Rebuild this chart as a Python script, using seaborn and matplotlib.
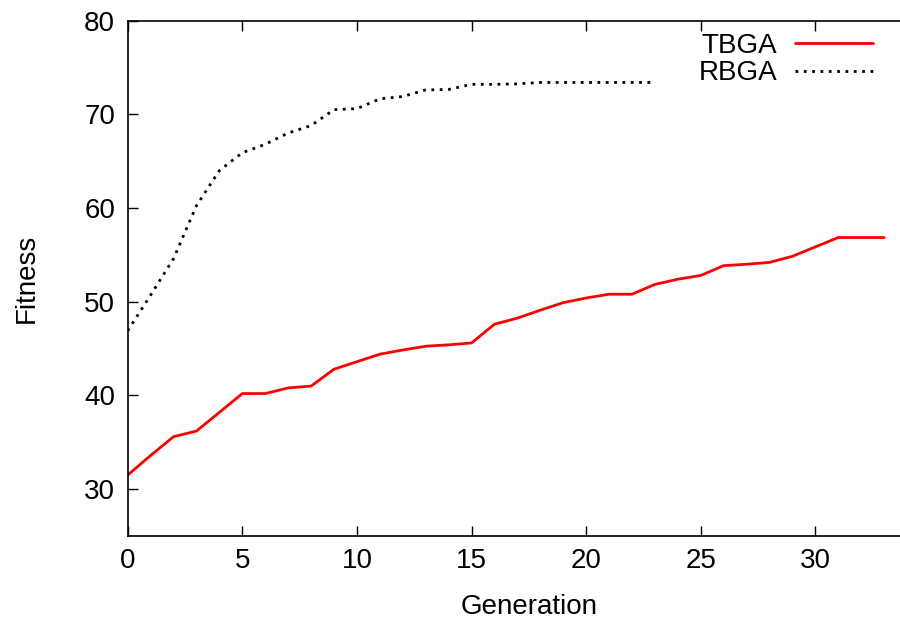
import matplotlib
matplotlib.use("Agg")
import matplotlib.pyplot as plt
import seaborn as sns
import pandas as pd

tbga_gen = list(range(0, 34))
tbga_fit = [31.5, 33.6, 35.6, 36.2, 38.2, 40.2, 40.2, 40.8, 41.0, 42.8,
            43.6, 44.4, 44.85, 45.25, 45.4, 45.6, 47.6, 48.25, 49.1, 49.9,
            50.4, 50.8, 50.8, 51.85, 52.4, 52.8, 53.85, 54.0, 54.2, 54.85,
            55.85, 56.85, 56.85, 56.85]
rbga_gen = list(range(0, 24))
rbga_fit = [46.9, 50.7, 54.6, 60.25, 64.0, 65.9, 66.8, 68.0, 68.8, 70.5,
            70.6, 71.65, 71.9, 72.6, 72.65, 73.2, 73.2, 73.25, 73.4, 73.4,
            73.4, 73.4, 73.4, 73.4]
x_ticks = [0, 5, 10, 15, 20, 25, 30]
y_ticks = [30, 40, 50, 60, 70, 80]

sns.set_style("white")
plt.rcParams['font.family'] = ['Liberation Sans', 'DejaVu Sans']
plt.rcParams['text.color'] = 'black'
plt.rcParams['axes.labelcolor'] = 'black'
plt.rcParams['xtick.color'] = 'black'
plt.rcParams['ytick.color'] = 'black'

fig = plt.figure(figsize=(9, 6.21), dpi=100)
ax = fig.add_axes([127.7/900, 85/621, 802.2/900, (536-20.6)/621])

df_t = pd.DataFrame({"Generation": tbga_gen, "Fitness": tbga_fit})
df_r = pd.DataFrame({"Generation": rbga_gen, "Fitness": rbga_fit})
sns.lineplot(data=df_t, x="Generation", y="Fitness", ax=ax, color="#ff0000",
             lw=2.0, label="TBGA")
sns.lineplot(data=df_r, x="Generation", y="Fitness", ax=ax, color="black",
             lw=2.0, linestyle=(0, (1, 2.0)), label="RBGA")

ax.set_xlim(0, 35)
ax.set_ylim(25, 80)
ax.set_xticks(x_ticks)
ax.set_yticks(y_ticks)
for s in ax.spines.values():
    s.set_linewidth(1.2)
    s.set_color("black")
ax.tick_params(direction="in", length=7, width=1.0, labelsize=20,
               top=True, right=True, bottom=True, left=True, pad=9)
ax.set_xlabel("Generation", fontsize=20, labelpad=14)
ax.set_ylabel("Fitness", fontsize=20, labelpad=32)

leg = ax.legend(loc="upper right", bbox_to_anchor=(873/900, 1 - 33/621),
                bbox_transform=fig.transFigure, frameon=False, fontsize=20,
                markerfirst=False, handlelength=2.8, handletextpad=0.65,
                labelspacing=0.05, borderpad=0, borderaxespad=0)

fig.savefig("out.png", dpi=100)
